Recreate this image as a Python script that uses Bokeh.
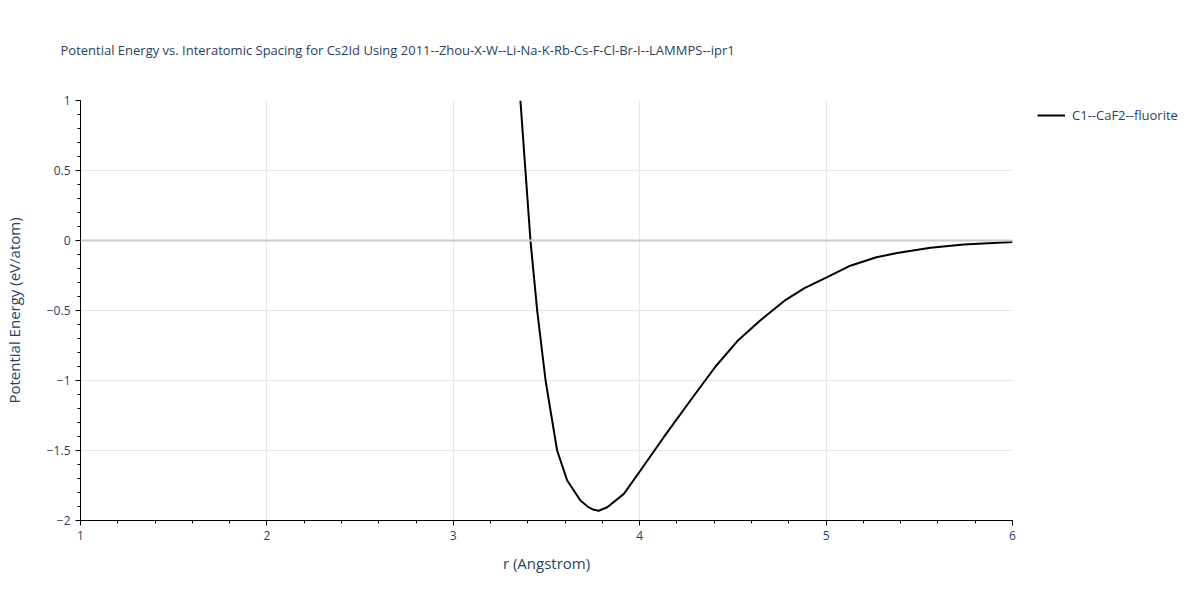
from bokeh.plotting import figure
from bokeh.models import Range1d, FixedTicker, Legend, LegendItem, Span
from bokeh.embed import file_html
from bokeh.resources import INLINE

r_vals = [3.36, 3.387, 3.414, 3.45, 3.495, 3.516, 3.557, 3.611, 3.682, 3.725, 3.754, 3.78,
          3.826, 3.915, 4.004, 4.129, 4.272, 4.407, 4.53, 4.648, 4.777, 4.884, 5.006,
          5.13, 5.27, 5.381, 5.56, 5.739, 6.0]
e_vals = [1.0, 0.5, 0.0, -0.5, -1.0, -1.17, -1.5, -1.714, -1.857, -1.905, -1.924, -1.93,
          -1.905, -1.81, -1.643, -1.405, -1.143, -0.9, -0.71, -0.57, -0.43, -0.34, -0.262,
          -0.18, -0.12, -0.09, -0.052, -0.029, -0.01]
series_name = "C1--CaF2--fluorite"
x_ticks = [1, 2, 3, 4, 5, 6]
y_ticks = [-2, -1.5, -1, -0.5, 0, 0.5, 1]
y_tick_labels = ["−2", "−1.5", "−1", "−0.5", "0", "0.5", "1"]

FONT = "Open Sans"
TXT = "#2a3f5f"

p = figure(frame_width=932, frame_height=420, output_backend="svg", toolbar_location=None,
           x_range=Range1d(1, 6), y_range=Range1d(-2, 1),
           min_border_left=72, min_border_right=176, min_border_top=100, min_border_bottom=64,
           title="Potential Energy vs. Interatomic Spacing for Cs2Id Using 2011--Zhou-X-W--Li-Na-K-Rb-Cs-F-Cl-Br-I--LAMMPS--ipr1")
p.outline_line_color = None
p.background_fill_color = "white"

p.title.text_font = FONT
p.title.text_font_size = "13px"
p.title.text_font_style = "normal"
p.title.text_color = TXT
p.title.offset = -20
p.title.standoff = 80
p.title.vertical_align = "top"

for ax in (p.xaxis[0], p.yaxis[0]):
    ax.axis_line_color = "black"
    ax.axis_line_width = 1
    ax.major_tick_line_color = "black"
    ax.minor_tick_line_color = "black"
    ax.major_tick_out = 5
    ax.major_tick_in = 0
    ax.minor_tick_out = 3
    ax.minor_tick_in = 0
    ax.major_label_text_font = FONT
    ax.major_label_text_font_size = "12px"
    ax.major_label_text_color = TXT
    ax.axis_label_text_font = FONT
    ax.axis_label_text_font_size = "15px"
    ax.axis_label_text_font_style = "normal"
    ax.axis_label_text_color = TXT

p.xaxis[0].ticker = FixedTicker(ticks=x_ticks, minor_ticks=[1 + 0.2 * i for i in range(26)])
p.yaxis[0].ticker = FixedTicker(ticks=y_ticks, minor_ticks=[-2 + 0.1 * i for i in range(31)])
p.yaxis[0].major_label_overrides = {t: l for t, l in zip(y_ticks, y_tick_labels)}
p.xaxis[0].axis_label = "r (Angstrom)"
p.yaxis[0].axis_label = "Potential Energy (eV/atom)"
p.xaxis[0].axis_label_standoff = 10
p.yaxis[0].axis_label_standoff = 20

p.xgrid.grid_line_color = "#e8e8e8"
p.ygrid.grid_line_color = "#e8e8e8"
p.xgrid.grid_line_width = 1
p.ygrid.grid_line_width = 1

zero = Span(location=0, dimension="width", line_color="#cccccc", line_width=2)
p.add_layout(zero)

line = p.line(r_vals, e_vals, line_color="black", line_width=2)

legend = Legend(items=[LegendItem(label=series_name, renderers=[line])],
                location=(25, 395), border_line_color=None, background_fill_alpha=0,
                label_text_font=FONT, label_text_font_size="13px", label_text_color=TXT,
                glyph_width=28, glyph_height=20, label_standoff=7, margin=0, padding=0)
p.add_layout(legend, "right")

open("out.html", "w").write(file_html(p, INLINE))
